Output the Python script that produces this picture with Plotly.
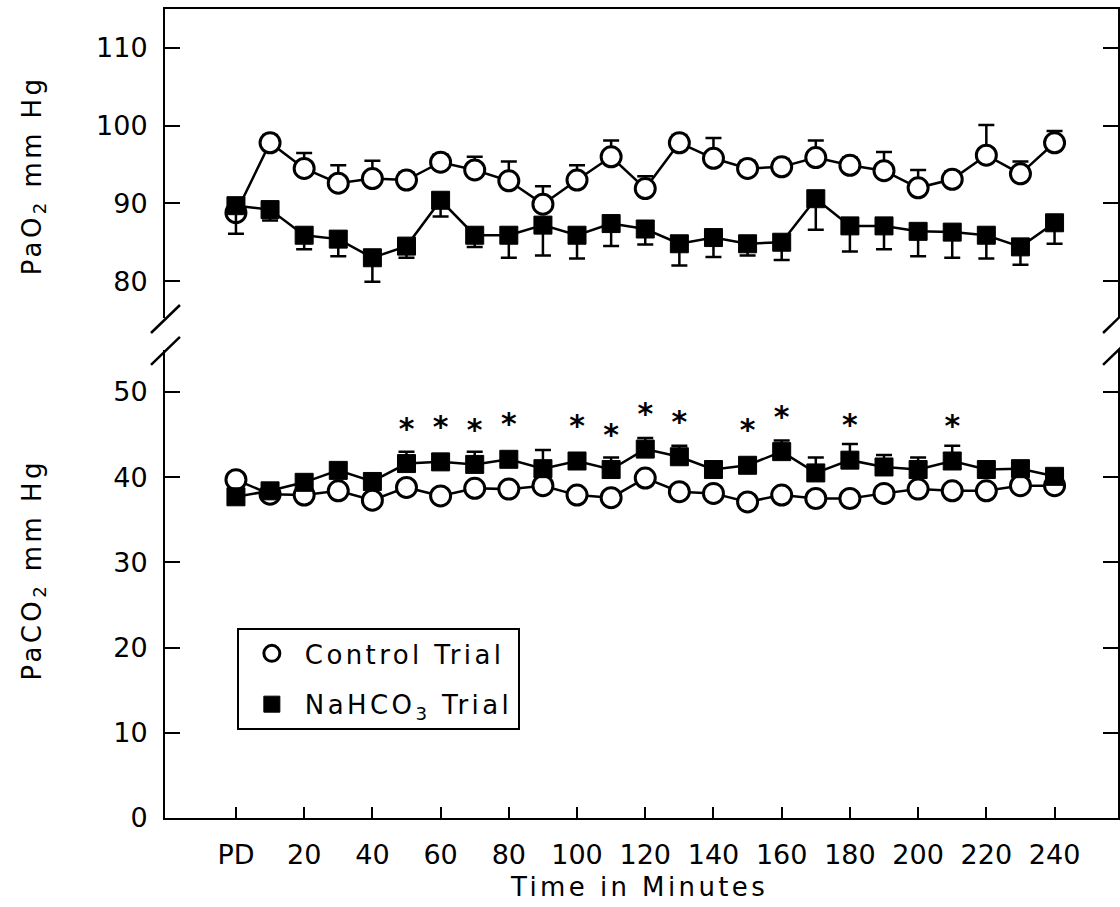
import plotly.graph_objects as go

# ---------------- data ----------------
time_min = [0, 10, 20, 30, 40, 50, 60, 70, 80, 90, 100, 110, 120,
            130, 140, 150, 160, 170, 180, 190, 200, 210, 220, 230, 240]
x_tick_vals = [0, 20, 40, 60, 80, 100, 120, 140, 160, 180, 200, 220, 240]
x_tick_text = ["PD", "20", "40", "60", "80", "100", "120", "140", "160",
               "180", "200", "220", "240"]

control_pao2 = [88.8, 97.8, 94.5, 92.6, 93.2, 93.0, 95.3, 94.3, 92.9, 89.9, 93.0, 96.0, 91.9,
                97.8, 95.8, 94.5, 94.7, 95.9, 94.9, 94.2, 92.0, 93.1, 96.2, 93.8, 97.8]
control_pao2_sem = [1.0, 1.0, 2.0, 2.3, 2.3, 1.0, 1.0, 1.7, 2.5, 2.3, 1.9, 2.1, 1.6,
                    1.0, 2.6, 1.0, 1.0, 2.2, 1.0, 2.4, 2.3, 1.0, 3.9, 1.6, 1.5]
nahco3_pao2 = [89.7, 89.2, 85.9, 85.4, 83.0, 84.5, 90.4, 85.9, 85.9, 87.2, 85.9, 87.4, 86.7,
               84.8, 85.6, 84.8, 85.0, 90.6, 87.1, 87.1, 86.4, 86.3, 85.9, 84.4, 87.5]
nahco3_pao2_sem = [3.6, 1.4, 1.8, 2.2, 3.1, 1.5, 2.1, 1.5, 2.9, 3.9, 3.0, 2.9, 2.0,
                   2.8, 2.5, 1.5, 2.3, 4.0, 3.3, 3.0, 3.2, 3.3, 3.0, 2.3, 2.7]

control_paco2 = [39.7, 38.0, 37.9, 38.4, 37.3, 38.8, 37.8, 38.7, 38.6, 39.0, 37.9, 37.6, 39.9,
                 38.3, 38.1, 37.1, 37.9, 37.5, 37.5, 38.1, 38.6, 38.4, 38.4, 39.0, 39.0]
nahco3_paco2 = [37.7, 38.4, 39.4, 40.8, 39.5, 41.6, 41.8, 41.5, 42.1, 41.0, 41.9, 40.9, 43.3,
                42.4, 40.9, 41.4, 43.0, 40.5, 42.0, 41.2, 40.9, 41.9, 40.9, 41.0, 40.1]
nahco3_paco2_sem = [0.5, 0.5, 0.6, 0.5, 0.5, 1.4, 0.6, 1.5, 0.6, 2.2, 0.6, 1.4, 1.3,
                    1.3, 0.6, 0.6, 1.3, 1.8, 1.9, 1.4, 1.4, 1.8, 0.6, 0.6, 0.6]

significant_times = [50, 60, 70, 80, 100, 110, 120, 130, 150, 160, 180, 210]

upper_y_ticks = [80, 90, 100, 110]
lower_y_ticks = [0, 10, 20, 30, 40, 50]

# ---------------- style ----------------
BLACK = "black"
LINE_W = 2.5
STAR_OFFSET = 3.8
zeros = [0] * len(time_min)

circle_marker = dict(symbol="circle", size=20, color="white", line=dict(color=BLACK, width=3))
square_marker = dict(symbol="square", size=18, color=BLACK, line=dict(color=BLACK, width=1))


def err(up, down):
    return dict(type="data", symmetric=False, array=up, arrayminus=down,
                color=BLACK, thickness=2.5, width=8)


fig = go.Figure()

# ---- upper panel (PaO2) ----
fig.add_trace(go.Scatter(x=time_min, y=control_pao2, mode="lines", line=dict(color=BLACK, width=LINE_W),
                         xaxis="x2", yaxis="y2", showlegend=False, hoverinfo="skip"))
fig.add_trace(go.Scatter(x=time_min, y=nahco3_pao2, mode="lines", line=dict(color=BLACK, width=LINE_W),
                         xaxis="x2", yaxis="y2", showlegend=False, hoverinfo="skip"))
fig.add_trace(go.Scatter(x=time_min, y=control_pao2, mode="markers", marker=circle_marker,
                         error_y=err(control_pao2_sem, zeros), xaxis="x2", yaxis="y2",
                         name="Control Trial", legendgroup="c"))
fig.add_trace(go.Scatter(x=time_min, y=nahco3_pao2, mode="markers", marker=square_marker,
                         error_y=err(zeros, nahco3_pao2_sem), xaxis="x2", yaxis="y2",
                         name="NaHCO<sub>3</sub> Trial", legendgroup="n"))

# ---- lower panel (PaCO2) ----
fig.add_trace(go.Scatter(x=time_min, y=control_paco2, mode="lines", line=dict(color=BLACK, width=LINE_W),
                         showlegend=False, hoverinfo="skip"))
fig.add_trace(go.Scatter(x=time_min, y=nahco3_paco2, mode="lines", line=dict(color=BLACK, width=LINE_W),
                         showlegend=False, hoverinfo="skip"))
fig.add_trace(go.Scatter(x=time_min, y=control_paco2, mode="markers", marker=circle_marker,
                         showlegend=False, legendgroup="c"))
fig.add_trace(go.Scatter(x=time_min, y=nahco3_paco2, mode="markers", marker=square_marker,
                         error_y=err(nahco3_paco2_sem, zeros), showlegend=False, legendgroup="n"))

star_y = [nahco3_paco2[time_min.index(t)] + STAR_OFFSET for t in significant_times]
fig.add_trace(go.Scatter(x=significant_times, y=star_y, mode="text", text=["*"] * len(significant_times),
                         textposition="middle center",
                         textfont=dict(family="DejaVu Sans", size=30, color=BLACK, weight="bold"),
                         showlegend=False, hoverinfo="skip"))

axis_common = dict(showgrid=False, zeroline=False, showline=True, linecolor=BLACK, linewidth=2,
                   tickcolor=BLACK, tickwidth=2, tickfont=dict(size=27, color=BLACK))

fig.update_layout(
    width=1120, height=907,
    margin=dict(l=165, r=0, t=9, b=89),
    paper_bgcolor="white", plot_bgcolor="white",
    font=dict(family="DejaVu Sans", size=26, color=BLACK),
    xaxis=dict(**axis_common, domain=[0, 1], range=[-20.8, 258.6], anchor="y",
               tickmode="array", tickvals=x_tick_vals, ticktext=x_tick_text,
               ticks="inside", ticklen=11, ticklabelstandoff=12),
    xaxis2=dict(showgrid=False, zeroline=False, showline=True, linecolor=BLACK, linewidth=2,
                domain=[0, 1], range=[-20.8, 258.6], anchor="y2", side="top",
                ticks="", showticklabels=False),
    yaxis=dict(**axis_common, domain=[0, 0.5785], range=[0, 54.93], anchor="x",
               tickmode="array", tickvals=lower_y_ticks, ticks="inside", ticklen=15,
               mirror="ticks", ticklabelstandoff=10),
    yaxis2=dict(**axis_common, domain=[0.618, 1], range=[75.24, 115.02], anchor="x2",
                tickmode="array", tickvals=upper_y_ticks, ticks="inside", ticklen=15,
                mirror="ticks", ticklabelstandoff=10),
    legend=dict(x=0.0754, y=0.2349, xanchor="left", yanchor="top",
                bordercolor=BLACK, borderwidth=2, bgcolor="white",
                font=dict(size=26), itemwidth=56, tracegroupgap=14, itemsizing="trace"),
    showlegend=True,
)

# axis titles
fig.add_annotation(text="Time in Minutes", xref="paper", yref="paper", x=0.497, y=-0.0853,
                   xanchor="center", yanchor="middle", showarrow=False, font=dict(size=26))
fig.add_annotation(text="PaO<sub>2</sub> mm Hg", xref="paper", yref="paper", x=-0.138, y=0.795,
                   xanchor="center", yanchor="middle", textangle=-90, showarrow=False, font=dict(size=26))
fig.add_annotation(text="PaCO<sub>2</sub> mm Hg", xref="paper", yref="paper", x=-0.138, y=0.3066,
                   xanchor="center", yanchor="middle", textangle=-90, showarrow=False, font=dict(size=26))

# axis-break marks
break_marks = [(-0.0147, 0.5995, 0.0157, 0.6341), (-0.0147, 0.5600, 0.0157, 0.5946),
               (0.9843, 0.5995, 1.0147, 0.6341), (0.9843, 0.5600, 1.0147, 0.5946)]
for x0, y0, x1, y1 in break_marks:
    fig.add_shape(type="line", xref="paper", yref="paper", x0=x0, y0=y0, x1=x1, y1=y1,
                  line=dict(color=BLACK, width=2.5))

post = """
var st=document.createElement('style');
st.textContent='.legendtext,.annotation-text{letter-spacing:3.4px;}';
document.head.appendChild(st);
var gd=document.getElementById('{plot_id}');
return Plotly.relayout(gd,{'font.family':'DejaVu Sans, sans-serif'});
"""

fig.write_html("out.html", post_script=post)
